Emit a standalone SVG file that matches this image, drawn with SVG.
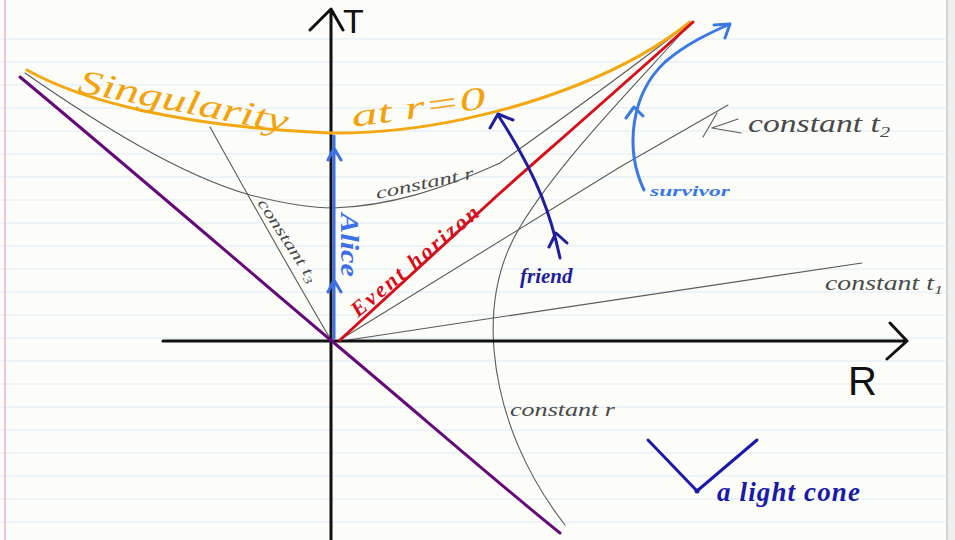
<svg xmlns="http://www.w3.org/2000/svg" width="955" height="540" viewBox="0 0 955 540">
<defs>
<style>
.rule{stroke:#dcebf6;stroke-width:1.2}
.thin{fill:none;stroke:#5a5a5a;stroke-width:1.1;stroke-linecap:round;stroke-linejoin:round}
.axis{fill:none;stroke:#111;stroke-width:3;stroke-linecap:round;stroke-linejoin:round}
.hand{font-family:"Liberation Serif","DejaVu Serif",serif;font-style:italic}
.gl{fill:#4a4a4a}
.ink{fill:none;stroke-width:3;stroke-linecap:round;stroke-linejoin:round}
</style>
</defs>
<rect width="955" height="540" fill="#fcfdf8"/>
<rect x="947" y="0" width="8" height="540" fill="#eef0ee"/>
<line x1="947" y1="0" x2="947" y2="540" stroke="#c8c8c8" stroke-width="1.5"/>
<g id="ruling">
<line class="rule" x1="0" y1="39" x2="947" y2="39"/>
<line class="rule" x1="0" y1="62" x2="947" y2="62"/>
<line class="rule" x1="0" y1="85" x2="947" y2="85"/>
<line class="rule" x1="0" y1="108" x2="947" y2="108"/>
<line class="rule" x1="0" y1="131" x2="947" y2="131"/>
<line class="rule" x1="0" y1="154" x2="947" y2="154"/>
<line class="rule" x1="0" y1="177" x2="947" y2="177"/>
<line class="rule" x1="0" y1="200" x2="947" y2="200"/>
<line class="rule" x1="0" y1="223" x2="947" y2="223"/>
<line class="rule" x1="0" y1="246" x2="947" y2="246"/>
<line class="rule" x1="0" y1="269" x2="947" y2="269"/>
<line class="rule" x1="0" y1="292" x2="947" y2="292"/>
<line class="rule" x1="0" y1="315" x2="947" y2="315"/>
<line class="rule" x1="0" y1="338" x2="947" y2="338"/>
<line class="rule" x1="0" y1="361" x2="947" y2="361"/>
<line class="rule" x1="0" y1="384" x2="947" y2="384"/>
<line class="rule" x1="0" y1="407" x2="947" y2="407"/>
<line class="rule" x1="0" y1="430" x2="947" y2="430"/>
<line class="rule" x1="0" y1="453" x2="947" y2="453"/>
<line class="rule" x1="0" y1="476" x2="947" y2="476"/>
<line class="rule" x1="0" y1="499" x2="947" y2="499"/>
<line class="rule" x1="0" y1="522" x2="947" y2="522"/>
<line x1="5" y1="0" x2="5" y2="540" stroke="#e6b4dc" stroke-width="1.5"/>
</g>
<g id="connectors">
<path id="hyperbola-inner" class="thin" d="M25,73 C100,125 180,175 250,195 C290,205 315,208 333,208 C390,206 440,190 500,163 C560,120 630,70 688,24"/>
<path id="hyperbola-outer" class="thin" d="M565,525 C530,480 500,420 494,350 C490,300 500,260 520,227 C560,160 640,80 688,26"/>
<path id="t3-line" class="thin" d="M210,127 C245,190 285,262 331,340"/>
<path id="t2-line" class="thin" d="M338,341 L620,167 L728,105"/>
<path id="t1-line" class="thin" d="M342,341 L480,320 L862,263"/>
<path id="t2-pointer" class="thin" d="M703,137 L717,113 M738,119 L712,128 L741,133"/>
<path id="t-axis" class="axis" d="M331,540 L331,9 M310,30 L331,9 L343,30"/>
<path id="r-axis" class="axis" d="M163,341 L907,341 M890,323 L907,341 L887,359"/>
<path id="purple-line" class="ink" stroke="#650a78" stroke-width="3.5" d="M20,77 C120,160 250,272 333,342 C420,415 500,485 560,533"/>
<path id="singularity" class="ink" stroke="#f3a812" d="M27,70 C80,100 180,127 331,133 C420,134 510,112 580,84 C630,64 665,42 690,22"/>
<path id="event-horizon" class="ink" stroke="#d4101c" d="M340,340 C400,285 460,230 500,193 C560,140 640,70 693,22"/>
<path id="alice" class="ink" stroke="#3d70e8" d="M334,338 L334,136 M328,292 L334,280 L341,292 M328,160 L334,148 L341,160"/>
<path id="friend" class="ink" stroke="#1e1e9e" d="M560,258 C552,220 540,180 498,115 M490,128 L498,114 L513,120 M549,247 L556,233 L567,243"/>
<path id="survivor" class="ink" stroke="#3a78e2" d="M644,190 C625,150 630,95 665,62 C685,45 705,35 730,24 M714,25 L730,24 L725,38 M626,118 L634,107 L643,116"/>
<path id="light-cone" class="ink" stroke="#1a1aa8" d="M648,440 L697,491 L757,440"/>
<circle cx="697" cy="491" r="2.5" fill="#1a1aa8"/>
</g>
<g id="label-T"><text x="343" y="33" font-family="Liberation Sans,Arial,sans-serif" font-size="34" fill="#111">T</text></g>
<g id="label-R"><text x="848" y="395" font-family="Liberation Sans,Arial,sans-serif" font-size="40" fill="#111">R</text></g>
<g id="label-singularity">
<text class="hand" x="77" y="92" font-size="34" fill="#f2a30c" textLength="213" lengthAdjust="spacingAndGlyphs" transform="rotate(11 77 92)">Singularity</text>
<text class="hand" x="353" y="127" font-size="32" fill="#f2a30c" textLength="135" lengthAdjust="spacingAndGlyphs" transform="rotate(-8 353 127)">at r=0</text>
</g>
<g id="label-event-horizon"><text class="hand" x="358" y="318" font-size="22" font-weight="bold" fill="#d4101c" textLength="160" transform="rotate(-40 358 318)">Event horizon</text></g>
<g id="label-alice"><text class="hand" x="341" y="213" font-size="26" font-weight="bold" fill="#3d70e8" textLength="64" lengthAdjust="spacingAndGlyphs" transform="rotate(90 341 213)">Alice</text></g>
<g id="label-friend"><text class="hand" x="520" y="283" font-size="21" font-weight="bold" fill="#1e1e9e">friend</text></g>
<g id="label-survivor"><text class="hand" x="650" y="196" font-size="15" font-weight="bold" fill="#3a78e2" textLength="80" lengthAdjust="spacingAndGlyphs">survivor</text></g>
<g id="label-light-cone"><text class="hand" x="717" y="501" font-size="27" font-weight="bold" fill="#1a1aa8" textLength="143">a light cone</text></g>
<g id="label-constant-r-upper"><text class="hand gl" x="377" y="199" font-size="17" textLength="100" lengthAdjust="spacingAndGlyphs" transform="rotate(-12 377 199)">constant r</text></g>
<g id="label-constant-r-lower"><text class="hand gl" x="510" y="416" font-size="18" textLength="105" lengthAdjust="spacingAndGlyphs">constant r</text></g>
<g id="label-constant-t3"><text class="hand gl" x="257" y="203" font-size="16" textLength="96" lengthAdjust="spacingAndGlyphs" transform="rotate(57 257 203)">constant t<tspan font-size="11" dy="3">3</tspan></text></g>
<g id="label-constant-t2"><text class="hand gl" x="748" y="132" font-size="25" textLength="142" lengthAdjust="spacingAndGlyphs">constant t<tspan font-size="15" dy="5">2</tspan></text></g>
<g id="label-constant-t1"><text class="hand gl" x="825" y="290" font-size="20" textLength="118" lengthAdjust="spacingAndGlyphs">constant t<tspan font-size="13" dy="4">1</tspan></text></g>
</svg>
